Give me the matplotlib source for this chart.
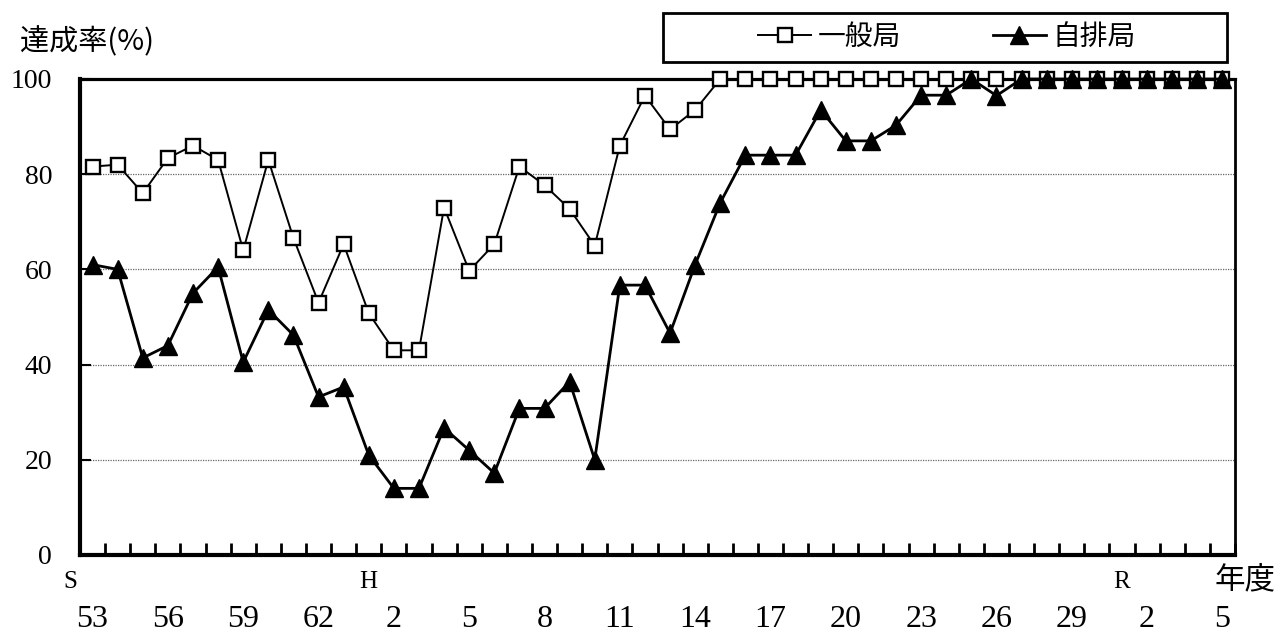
import matplotlib
matplotlib.use("Agg")
import matplotlib.pyplot as plt
from matplotlib.patches import Rectangle
from matplotlib.transforms import blended_transform_factory

# achievement rate (%) per fiscal year, S53 .. R5
general = [81.6, 82, 76, 83.4, 86, 83, 64, 83, 66.6, 53,
           65.3, 50.8, 43, 43, 73, 59.7, 65.3, 81.6, 77.7, 72.7,
           65, 86, 96.5, 89.4, 93.5, 100, 100, 100, 100, 100,
           100, 100, 100, 100, 100, 100, 100, 100, 100, 100,
           100, 100, 100, 100, 100, 100]
roadside = [61, 60, 41.4, 44, 55, 60.5, 40.5, 51.5, 46.2, 33.2,
            35.3, 21, 14, 14, 26.7, 22, 17.2, 30.8, 30.8, 36.4,
            20, 56.7, 56.7, 46.6, 61, 74, 84, 84, 84, 93.5,
            87, 87, 90.3, 96.6, 96.6, 100, 96.5, 100, 100, 100,
            100, 100, 100, 100, 100, 100]

year_pos = [0, 3, 6, 9, 12, 15, 18, 21, 24, 27, 30, 33, 36, 39, 42, 45]
year_labels = ['53', '56', '59', '62', '2', '5', '8', '11', '14', '17',
               '20', '23', '26', '29', '2', '5']
era_labels = ['S', 'H', 'R']
era_pos = [-0.9, 11, 41]

plt.rcParams['font.family'] = ['Liberation Serif', 'Noto Sans CJK JP']
cjk = ['Noto Sans CJK JP', 'DejaVu Sans']

fig = plt.figure(figsize=(12.82, 6.35), dpi=100)
ax = fig.add_axes([80 / 1282, 1 - 555 / 635, (1235 - 80) / 1282, (555 - 79) / 635])

x = list(range(len(general)))
ax.plot(x, general, color='black', lw=1.4, marker='s', ms=10.5,
        mfc='white', mec='black', mew=1.7, clip_on=False, zorder=3,
        label='一般局')
ax.plot(x, roadside, color='black', lw=2, marker='^', ms=13,
        mfc='black', mec='black', clip_on=False, zorder=4,
        label='自排局')

ax.set_xlim(-0.5, len(general) - 0.5)
ax.set_ylim(0, 100)
ax.set_yticks([0, 20, 40, 60, 80, 100])
ax.tick_params(axis='y', direction='in', length=8, width=1.5,
               labelsize=20, pad=20)

# category boundaries carry the small tick marks
ax.set_xticks([i - 0.5 for i in range(len(general) + 1)])
ax.set_xticklabels([])
ax.tick_params(axis='x', direction='in', length=9, width=2)

ax.yaxis.grid(True, ls=(0, (1, 1)), lw=0.9, color='#666666')
ax.set_axisbelow(True)

for side, w in [('left', 3), ('bottom', 3), ('top', 2.3), ('right', 2)]:
    ax.spines[side].set_linewidth(w)

trans = blended_transform_factory(ax.transData, ax.transAxes)
for p, lab in zip(year_pos, year_labels):
    ax.text(p, -0.1345, lab, transform=trans, ha='center', va='center', size=23)
for p, lab in zip(era_pos, era_labels):
    ax.text(p, -0.0567, lab, transform=trans, ha='center', va='center', size=18)
fig.text(1245 / 1282, 1 - 580 / 635, '年度', family=cjk, size=22,
         ha='center', va='center')

fig.text(20 / 1282, 1 - 42 / 635, '達成率(%)', family=cjk, size=21,
         ha='left', va='center')

# legend box sits above the plot area
handles, labels = ax.get_legend_handles_labels()
fig.legend(handles, labels, loc='center',
           bbox_to_anchor=(947 / 1282, 1 - 37 / 635), ncol=2, frameon=False,
           prop={'family': cjk, 'size': 20}, handlelength=1.9,
           handletextpad=0.25, columnspacing=3.3)
fig.add_artist(Rectangle((663 / 1282, 1 - 62 / 635), (1227 - 663) / 1282,
                         49 / 635, transform=fig.transFigure, fill=False,
                         lw=2, ec='black'))

fig.savefig('out.png', dpi=100)
